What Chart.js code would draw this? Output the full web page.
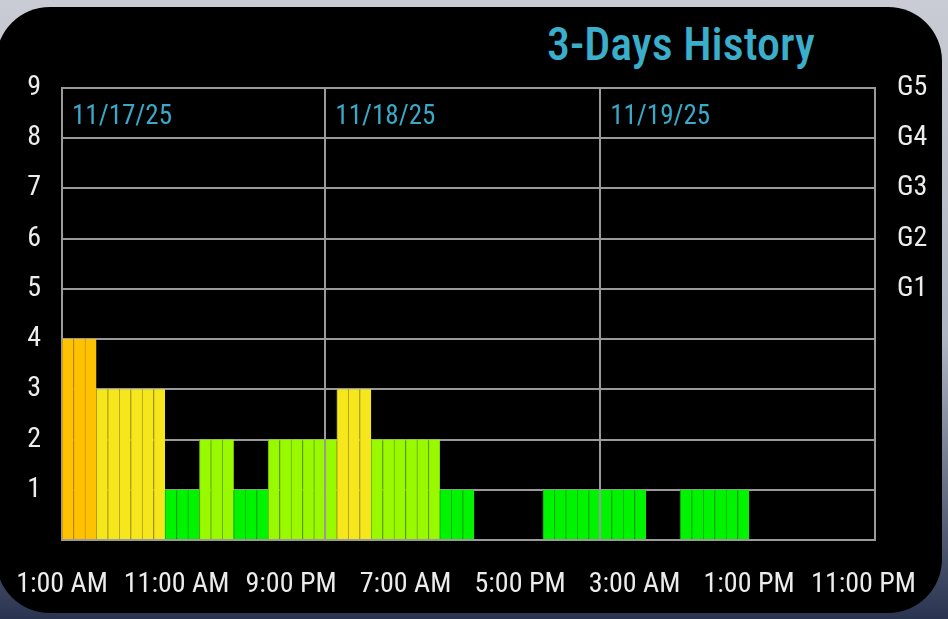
<!DOCTYPE html>
<html>
<head>
<meta charset="utf-8">
<title>3-Days History</title>
<script src="https://cdn.jsdelivr.net/npm/chart.js@4.4.1/dist/chart.umd.min.js"></script>
<style>
  html, body {
    margin: 0;
    padding: 0;
    width: 948px;
    height: 619px;
    overflow: hidden;
    background: linear-gradient(180deg, #c9ccd4 0%, #aeb4c2 55%, #2a3450 100%);
  }
  #card {
    position: absolute;
    left: -4px;
    top: 7px;
    width: 946px;
    height: 606px;
    background: #000;
    border-radius: 54px;
  }
  #title {
    position: absolute;
    left: 547px;
    top: 17px;
    color: #3aaecb;
    font-family: "Roboto Condensed", "Liberation Sans Narrow", "DejaVu Sans Condensed", Roboto, sans-serif;
    font-size: 46px;
    font-weight: 500;
    white-space: nowrap;
  }
  #wrap {
    position: absolute;
    left: 0;
    top: 0;
    width: 948px;
    height: 619px;
  }
</style>
</head>
<body>
<div id="card"></div>
<div id="title">3-Days History</div>
<div id="wrap"><canvas id="kpChart"></canvas></div>
<script>
// hours counted from 1:00 AM 11/17/25, axis runs to midnight 11/20
const axisHours = 71;
const tickLabels = ["1:00 AM", "11:00 AM", "9:00 PM", "7:00 AM", "5:00 PM", "3:00 AM", "1:00 PM", "11:00 PM"];
const dayLabels = ["11/17/25", "11/18/25", "11/19/25"];
const dayStarts = [-1, 23, 47];
const kpLabels = ["1", "2", "3", "4", "5", "6", "7", "8", "9"];
const stormLabels = { 5: "G1", 6: "G2", 7: "G3", 8: "G4", 9: "G5" };

// Kp per 3 hour block (1-4 AM, 4-7 AM, ...), drawn as hourly bars
const kp3h = [4, 3, 3, 1, 2, 1, 2, 2, 3, 2, 2, 1, 0, 0, 1, 1, 1, 0, 1, 1];

const fillColors = { 1: "#00f400", 2: "#99fa00", 3: "#f6e61c", 4: "#ffc200" };
const lineColors = { 1: "#00b000", 2: "#6aae00", 3: "#b0a210", 4: "#c08c00" };

const font = "'Roboto Condensed', 'Liberation Sans Narrow', 'DejaVu Sans Condensed', Roboto, sans-serif";
const gridColor = "#9a9a9a";

let hourly = [];
kp3h.forEach((v, i) => {
  for (let h = 0; h < 3; h++) {
    hourly.push({ x: i * 3 + h + 0.5, y: v });
  }
});

const dayPlugin = {
  id: "days",
  afterDraw(chart) {
    const c = chart.ctx;
    const xs = chart.scales.x;
    const area = chart.chartArea;
    c.save();
    c.strokeStyle = gridColor;
    c.lineWidth = 2;
    dayStarts.forEach((d, i) => {
      if (d > 0) {
        const px = Math.round(xs.getPixelForValue(d));
        c.beginPath();
        c.moveTo(px, area.top);
        c.lineTo(px, area.bottom);
        c.stroke();
      }
      const lx = xs.getPixelForValue(Math.max(0, d)) + 10;
      c.fillStyle = "#3aa9c8";
      c.font = "27px " + font;
      c.textBaseline = "middle";
      c.textAlign = "left";
      c.fillText(dayLabels[i], lx, area.top + 29);
    });
    c.restore();
  },
};

const ctx = document.getElementById("kpChart");

new Chart(ctx, {
  type: "bar",
  data: {
    datasets: [
      {
        data: hourly,
        backgroundColor: (c) => fillColors[c.raw ? c.raw.y : 1] || "#000",
        borderColor: (c) => lineColors[c.raw ? c.raw.y : 1] || "#000",
        borderWidth: { left: 1, right: 0, top: 0, bottom: 0 },
        borderSkipped: false,
        barPercentage: 1,
        categoryPercentage: 1,
      },
    ],
  },
  options: {
    responsive: true,
    maintainAspectRatio: false,
    animation: false,
    layout: {
      padding: { top: 88, left: 0, right: 0, bottom: 0 },
    },
    plugins: {
      legend: { display: false },
      tooltip: { enabled: false },
    },
    scales: {
      x: {
        type: "linear",
        min: 0,
        max: axisHours,
        offset: false,
        grid: { display: false, offset: false },
        border: { display: false },
        afterBuildTicks: (scale) => {
          scale.ticks = tickLabels.map((l, i) => ({ value: i * 10 }));
        },
        afterFit: (scale) => {
          scale.height = 79;
          scale.paddingLeft = 0;
          scale.paddingRight = 0;
        },
        ticks: {
          color: "#ececec",
          font: { family: font, size: 28 },
          padding: 20,
          maxRotation: 0,
          autoSkip: false,
          callback: (v, i) => tickLabels[i],
        },
      },
      y: {
        min: 0,
        max: 9,
        position: "left",
        afterFit: (scale) => {
          scale.width = 62;
        },
        grid: { color: gridColor, lineWidth: 2, drawTicks: false },
        border: { color: gridColor, width: 2 },
        ticks: {
          stepSize: 1,
          color: "#ececec",
          font: { family: font, size: 28 },
          padding: 21,
          callback: (v) => (v > 0 ? kpLabels[v - 1] : ""),
        },
      },
      y2: {
        min: 0,
        max: 9,
        position: "right",
        afterFit: (scale) => {
          scale.width = 73;
        },
        grid: { display: false, drawTicks: false },
        border: { color: gridColor, width: 2 },
        ticks: {
          stepSize: 1,
          color: "#ececec",
          font: { family: font, size: 28 },
          padding: 22,
          callback: (v) => stormLabels[v] || "",
        },
      },
    },
  },
  plugins: [dayPlugin],
});
</script>
</body>
</html>
